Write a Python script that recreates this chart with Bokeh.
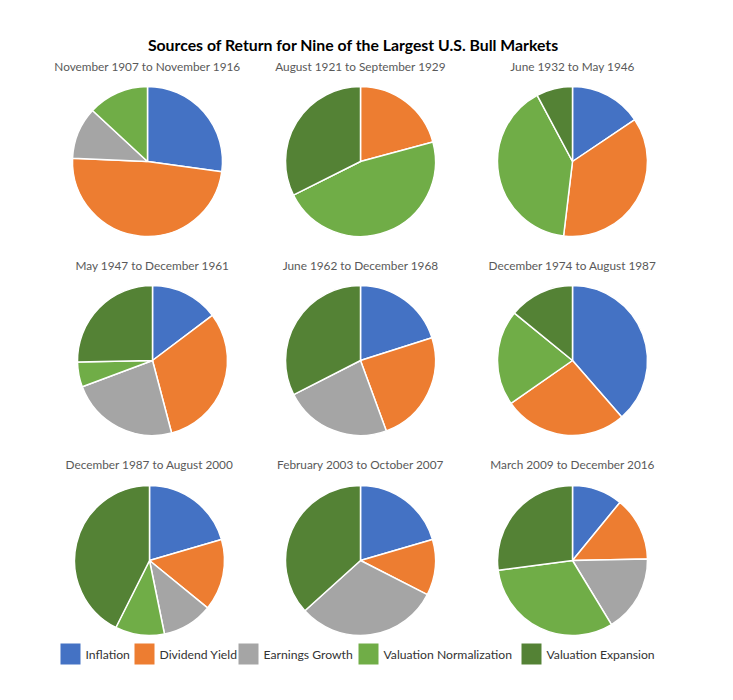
import math
from bokeh.plotting import figure
from bokeh.models import ColumnDataSource, Range1d
from bokeh.core.properties import value
from bokeh.embed import file_html
from bokeh.resources import INLINE

# ---- data ----
chart_title = "Sources of Return for Nine of the Largest U.S. Bull Markets"
categories = ["Inflation", "Dividend Yield", "Earnings Growth",
              "Valuation Normalization", "Valuation Expansion"]
periods = ["November 1907 to November 1916", "August 1921 to September 1929",
           "June 1932 to May 1946", "May 1947 to December 1961",
           "June 1962 to December 1968", "December 1974 to August 1987",
           "December 1987 to August 2000", "February 2003 to October 2007",
           "March 2009 to December 2016"]
inflation = [27.2, 0, 15.6, 14.7, 20.1, 38.6, 20.5, 20.5, 10.9]
dividend_yield = [48.5, 20.8, 36.3, 31.2, 24.3, 26.7, 15.4, 12.0, 13.8]
earnings_growth = [11.2, 0, 0, 23.4, 23.1, 0, 10.9, 30.8, 16.6]
valuation_normalization = [13.1, 46.8, 40.3, 5.4, 0, 20.6, 10.6, 0, 31.6]
valuation_expansion = [0, 32.4, 7.8, 25.3, 32.5, 14.1, 42.6, 36.7, 27.1]
series = [inflation, dividend_yield, earnings_growth,
          valuation_normalization, valuation_expansion]

# ---- styles / layout ----
colors = ["#4472C4", "#ED7D31", "#A5A5A5", "#70AD47", "#548235"]
W, H = 717, 684
FONT = "Lato"

def px(x):
    return x

def py(y):
    return H - y

pie_cx = [147, 360, 572, 152, 360, 572, 149, 360, 572]
pie_cy = [161, 161, 161, 360, 360, 360, 560, 560, 560]
title_cy = [66, 66, 66, 265, 265, 265, 464, 464, 464]
R = 75

p = figure(width=W, height=H, output_backend="svg", toolbar_location=None,
           x_range=Range1d(0, W), y_range=Range1d(0, H), min_border=0)
p.axis.visible = False
p.grid.visible = False
p.outline_line_color = None
p.background_fill_color = "white"

wx, wy, ws, we, wc = [], [], [], [], []
for i in range(len(periods)):
    vals = [s[i] for s in series]
    tot = sum(vals)
    cum = 0.0
    for k, v in enumerate(vals):
        if v <= 0:
            continue
        a0 = math.pi / 2 - 2 * math.pi * cum / tot
        cum += v
        a1 = math.pi / 2 - 2 * math.pi * cum / tot
        wx.append(px(pie_cx[i]))
        wy.append(py(pie_cy[i]))
        ws.append(a1)
        we.append(a0)
        wc.append(colors[k])

src = ColumnDataSource(dict(x=wx, y=wy, s=ws, e=we, c=wc))
p.wedge(x="x", y="y", radius=R, start_angle="s", end_angle="e",
        fill_color="c", line_color="white", line_width=1.5, source=src)

# pie titles
tsrc = ColumnDataSource(dict(x=[px(v) for v in pie_cx],
                             y=[py(v) for v in title_cy], t=periods))
p.text(x="x", y="y", text="t", source=tsrc, text_align="center",
       text_baseline="middle", text_font=value(FONT), text_font_size="11.8px",
       text_color="#595959")

# main title
p.text(x=[px(353)], y=[py(44)], text=[chart_title], text_align="center",
       text_baseline="middle", text_font=value(FONT), text_font_size="15.8px",
       text_font_style="bold", text_color="#000000")

# legend
sw_x = [60, 134, 238, 358, 521]
lsrc = ColumnDataSource(dict(
    l=[px(v) for v in sw_x], r=[px(v + 20) for v in sw_x],
    t=[py(643)] * 5, b=[py(664)] * 5, c=colors))
p.quad(left="l", right="r", top="t", bottom="b", fill_color="c",
       line_color=None, source=lsrc)
ltxt = ColumnDataSource(dict(x=[px(v + 25) for v in sw_x],
                             y=[py(654)] * 5, t=categories))
p.text(x="x", y="y", text="t", source=ltxt, text_align="left",
       text_baseline="middle", text_font=value(FONT), text_font_size="12.2px",
       text_color="#333333")

open("out.html", "w").write(file_html(p, INLINE))
